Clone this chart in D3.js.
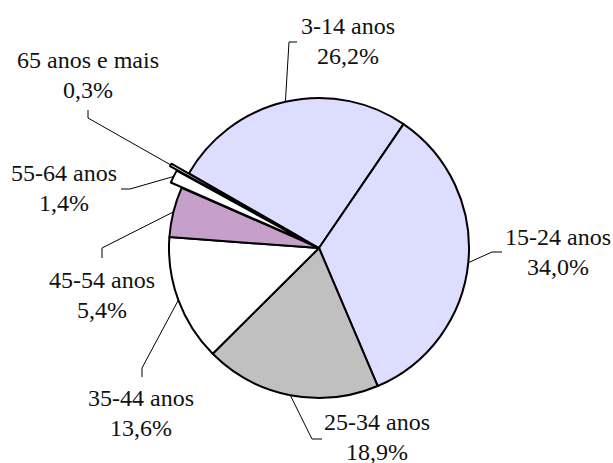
<!DOCTYPE html>
<html>
<head>
<meta charset="utf-8">
<script src="https://cdn.jsdelivr.net/npm/d3@7"></script>
<style>
  html, body { margin: 0; padding: 0; background: #fff; }
  svg { display: block; }
</style>
</head>
<body>
<svg id="chart" width="613" height="463"></svg>
<script>
// Age groups and their share of the total (%)
const categories = ["3-14 anos", "15-24 anos", "25-34 anos", "35-44 anos", "45-54 anos", "55-64 anos", "65 anos e mais"];
const shares = [26.2, 34.0, 18.9, 13.6, 5.4, 1.4, 0.3];
const shareLabels = ["26,2%", "34,0%", "18,9%", "13,6%", "5,4%", "1,4%", "0,3%"];

// Slice styling
const fills = ["#DDDDFF", "#DDDDFF", "#C0C0C0", "#FFFFFF", "#C69FCA", "#FFFFFF", "#FFFFFF"];
const explode = [0, 0, 0, 0, 0, 12, 20];

// Label placement: text centre x, first baseline y, and the two label-side points of each leader line
const labelLayout = [
  { x: 348, y: 34,  leader: [[297, 42], [289, 42]] },
  { x: 558, y: 245, leader: [[502, 252], [492, 252]] },
  { x: 377, y: 430, leader: [[322, 439], [312, 439]] },
  { x: 141, y: 406, leader: [[142, 377], [142, 368]] },
  { x: 102, y: 288, leader: [[102, 258], [102, 248]] },
  { x: 64,  y: 181, leader: [[121, 189], [130, 189]] },
  { x: 88,  y: 68,  leader: [[88, 110], [88, 118]] }
];
const lineGap = 30;

const cx = 319, cy = 248, radius = 150;
const deg = Math.PI / 180;

const svg = d3.select("#chart");
const g = svg.append("g").attr("transform", `translate(${cx},${cy})`);

const rows = categories.map((c, i) => ({ name: c, value: shares[i], label: shareLabels[i], i }));

const pie = d3.pie()
  .sort(null)
  .value(d => d.value)
  .startAngle(-60.2 * deg)
  .endAngle(299.8 * deg);

const arcs = pie(rows);
const arc = d3.arc().innerRadius(0).outerRadius(radius);

const offset = d => {
  const a = (d.startAngle + d.endAngle) / 2;
  const e = explode[d.data.i];
  return [Math.sin(a) * e, -Math.cos(a) * e];
};

// Slices
g.selectAll("path.slice")
  .data(arcs)
  .join("path")
  .attr("class", "slice")
  .attr("transform", d => `translate(${offset(d)})`)
  .attr("d", arc)
  .attr("fill", d => fills[d.data.i])
  .attr("stroke", "#000")
  .attr("stroke-width", 2)
  .attr("stroke-linejoin", "round");

// Leader lines: from the label to the slice's outer edge at mid-angle
const line = d3.line();
svg.selectAll("path.leader")
  .data(arcs)
  .join("path")
  .attr("class", "leader")
  .attr("d", d => {
    const a = (d.startAngle + d.endAngle) / 2;
    const r = radius + explode[d.data.i];
    const end = [cx + Math.sin(a) * r, cy - Math.cos(a) * r];
    return line([...labelLayout[d.data.i].leader, end]);
  })
  .attr("fill", "none")
  .attr("stroke", "#000")
  .attr("stroke-width", 1);

// Labels: category name, and the percentage on the line below
function addLabels(cls, dy, textOf) {
  svg.selectAll("text." + cls)
    .data(arcs)
    .join("text")
    .attr("class", cls)
    .style("font-family", "Liberation Serif")
    .style("font-size", "24px")
    .style("fill", "#111")
    .attr("text-anchor", "middle")
    .attr("x", d => labelLayout[d.data.i].x)
    .attr("y", d => labelLayout[d.data.i].y + dy)
    .text(textOf);
}
addLabels("name", 0, d => d.data.name);
addLabels("pct", lineGap, d => d.data.label);
</script>
</body>
</html>
